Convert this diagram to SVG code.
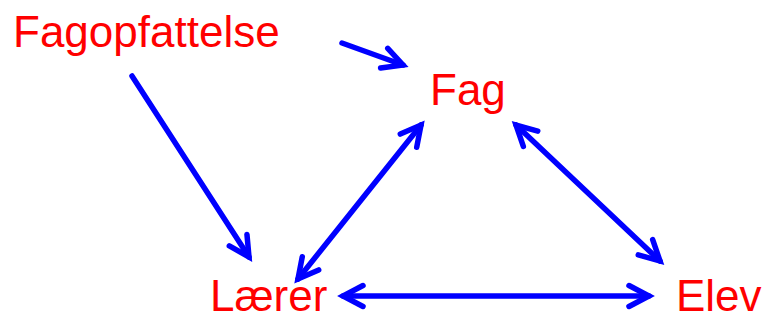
<svg xmlns="http://www.w3.org/2000/svg" width="763" height="321" viewBox="0 0 763 321">
<style>
.lbl{font-family:"Liberation Sans",Arial,sans-serif;font-size:44px;fill:#ff0000}
.c{stroke:#0000ff;stroke-width:5.5;fill:none;stroke-linecap:round}
</style>
<defs>
<marker id="ah" markerUnits="userSpaceOnUse" viewBox="-25 -15 30 30" markerWidth="30" markerHeight="30" refX="0" refY="0" orient="auto-start-reverse" overflow="visible">
<path d="M-20,-10.5 L0,0 L-20,10.5" fill="none" stroke="#0000ff" stroke-width="5.5" stroke-linecap="round" stroke-linejoin="miter"/>
</marker>
</defs>
<rect width="763" height="321" fill="#ffffff"/>
<g id="connectors">
<line class="c" x1="342" y1="43" x2="403" y2="65" marker-end="url(#ah)"/>
<line class="c" x1="132" y1="76" x2="249" y2="257" marker-end="url(#ah)"/>
<line class="c" x1="298" y1="279" x2="421" y2="125" marker-start="url(#ah)" marker-end="url(#ah)"/>
<line class="c" x1="516" y1="125" x2="660" y2="261" marker-start="url(#ah)" marker-end="url(#ah)"/>
<line class="c" x1="343" y1="296" x2="649" y2="296" marker-start="url(#ah)" marker-end="url(#ah)"/>
</g>
<g id="fagopfattelse"><text class="lbl" x="13" y="47">Fagopfattelse</text></g>
<g id="fag"><text class="lbl" x="430" y="105">Fag</text></g>
<g id="laerer"><text class="lbl" x="210" y="311">Lærer</text></g>
<g id="elev"><text class="lbl" x="676" y="311">Elev</text></g>
</svg>
